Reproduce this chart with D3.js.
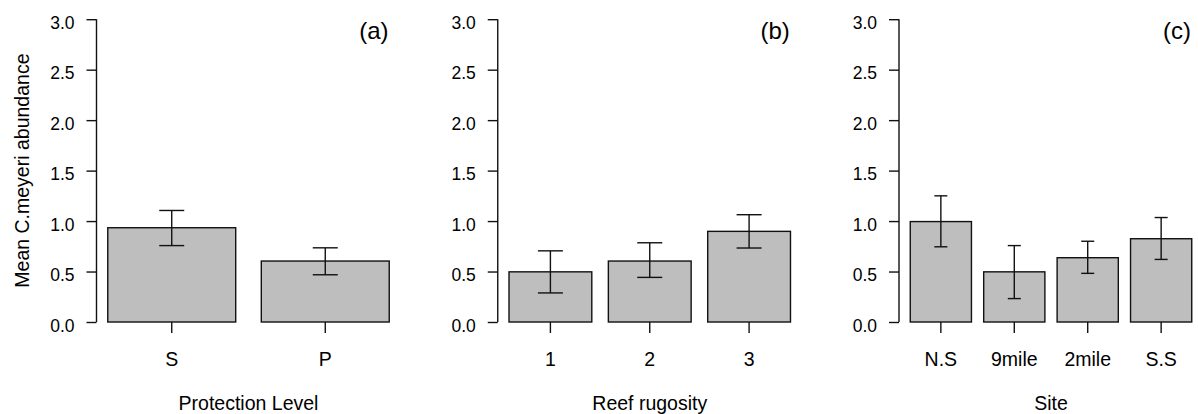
<!DOCTYPE html>
<html>
<head>
<meta charset="utf-8">
<script src="https://cdn.jsdelivr.net/npm/d3@7"></script>
<style>
  body { margin: 0; background: #fff; }
  svg text { font-family: Arial, "Liberation Sans", Helvetica, sans-serif; fill: #000; }
</style>
</head>
<body>
<script>
// data
const protectionCats = ["S", "P"];
const protectionMean = [0.934, 0.604];
const protectionLow = [0.757, 0.468];
const protectionHigh = [1.105, 0.735];

const rugosityCats = ["1", "2", "3"];
const rugosityMean = [0.497, 0.604, 0.898];
const rugosityLow = [0.288, 0.442, 0.733];
const rugosityHigh = [0.705, 0.785, 1.063];

const siteCats = ["N.S", "9mile", "2mile", "S.S"];
const siteMean = [0.995, 0.497, 0.637, 0.825];
const siteLow = [0.745, 0.232, 0.482, 0.62];
const siteHigh = [1.25, 0.757, 0.80, 1.035];

const yTicks = [0, 0.5, 1, 1.5, 2, 2.5, 3];
const panelLabels = ["(a)", "(b)", "(c)"];
const xTitles = ["Protection Level", "Reef rugosity", "Site"];
const yTitle = "Mean C.meyeri abundance";

const width = 1198, height = 414;
const plotW = 304;
const panelStep = 401.25;
const firstLeft = 96.5;
const capW = [25, 25, 13];

const svg = d3.select("body").append("svg")
    .attr("width", width)
    .attr("height", height);

const y = d3.scaleLinear().domain([0, 3]).range([322, 19.2]);

const panels = [
  {cats: protectionCats, mean: protectionMean, low: protectionLow, high: protectionHigh},
  {cats: rugosityCats, mean: rugosityMean, low: rugosityLow, high: rugosityHigh},
  {cats: siteCats, mean: siteMean, low: siteLow, high: siteHigh}
];

panels.forEach((p, i) => {
  const left = firstLeft + i * panelStep;
  const n = p.cats.length;
  const D = n * 1.2 - 0.2;   // R barplot span, space = 0.2
  const x = d3.scaleBand()
      .domain(p.cats)
      .range([left, left + plotW])
      .paddingInner(1 / 6)
      .paddingOuter(D / 30);

  const rows = p.cats.map((c, k) => ({cat: c, mean: p.mean[k], low: p.low[k], high: p.high[k]}));
  const g = svg.append("g");

  // bars
  g.selectAll("rect")
    .data(rows)
    .join("rect")
      .attr("x", d => x(d.cat))
      .attr("y", d => y(d.mean))
      .attr("width", x.bandwidth())
      .attr("height", d => y(0) - y(d.mean))
      .attr("fill", "#bebebe")
      .attr("stroke", "#111")
      .attr("stroke-width", 1.4);

  // error bars
  const eb = g.selectAll("g.err")
    .data(rows)
    .join("g")
      .attr("class", "err")
      .attr("stroke", "#111")
      .attr("stroke-width", 1.4);
  const cx = d => x(d.cat) + x.bandwidth() / 2;
  eb.append("line")
      .attr("x1", cx).attr("x2", cx)
      .attr("y1", d => y(d.low)).attr("y2", d => y(d.high));
  eb.append("line")
      .attr("x1", d => cx(d) - capW[i] / 2).attr("x2", d => cx(d) + capW[i] / 2)
      .attr("y1", d => y(d.high)).attr("y2", d => y(d.high));
  eb.append("line")
      .attr("x1", d => cx(d) - capW[i] / 2).attr("x2", d => cx(d) + capW[i] / 2)
      .attr("y1", d => y(d.low)).attr("y2", d => y(d.low));

  // y axis
  const yAxis = d3.axisLeft(y)
      .tickValues(yTicks)
      .tickFormat(d3.format(".1f"))
      .tickSize(10)
      .tickPadding(12);
  const ya = g.append("g")
      .attr("transform", "translate(" + left + ",0)")
      .call(yAxis);
  ya.select(".domain")
      .attr("d", "M0," + y(3) + "V" + y(0))
      .attr("stroke", "#111").attr("stroke-width", 1.4);
  ya.selectAll(".tick line").attr("stroke", "#111").attr("stroke-width", 1.4);
  ya.selectAll(".tick text")
      .attr("dy", null)
      .attr("y", 9.3)
      .attr("font-size", "17.5px");

  // x axis, ticks only
  const xAxis = d3.axisBottom(x).tickSize(11).tickPadding(0);
  const xa = g.append("g")
      .attr("transform", "translate(0," + y(0) + ")")
      .call(xAxis);
  xa.select(".domain").remove();
  xa.selectAll(".tick line").attr("stroke", "#111").attr("stroke-width", 1.4);
  xa.selectAll(".tick text")
      .attr("dy", null)
      .attr("y", 365.7 - y(0))
      .attr("font-size", "19.5px");

  // x title
  g.append("text")
      .attr("x", left + plotW / 2)
      .attr("y", 409.5)
      .attr("text-anchor", "middle")
      .attr("font-size", "19.5px")
      .text(xTitles[i]);

  // panel letter
  g.append("text")
      .attr("x", left + plotW - 12)
      .attr("y", 39)
      .attr("text-anchor", "end")
      .attr("font-size", "24px")
      .text(panelLabels[i]);
});

svg.append("text")
    .attr("transform", "translate(29," + (y(1.5)) + ") rotate(-90)")
    .attr("text-anchor", "middle")
    .attr("font-size", "19.5px")
    .text(yTitle);
</script>
</body>
</html>
